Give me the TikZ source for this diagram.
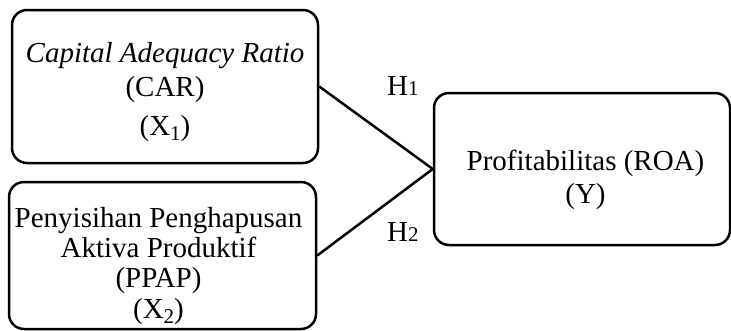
\documentclass[tikz,border=0pt]{standalone}
\usepackage{fontspec}
\setmainfont{Liberation Serif}
\newcommand{\sbx}[1]{\raisebox{-0.18em}{\fontsize{21}{21}\selectfont #1}}
\newcommand{\hsb}[1]{{\fontsize{21}{21}\selectfont #1}}
\begin{document}
\begin{tikzpicture}[x=1pt,y=-1pt,
  box/.style={draw, line width=2.5pt, rounded corners=15pt, inner sep=0pt},
  txt/.style={align=center, font=\fontsize{29}{30}\selectfont, inner sep=0pt, anchor=base},
  lbl/.style={font=\fontsize{29}{30}\selectfont, inner sep=0pt, anchor=base west},
  conn/.style={line width=2.5pt},
]
\useasboundingbox (0,0) rectangle (731,330);
\node[box, minimum width=306pt, minimum height=153pt] (b1) at (165,86.5) {};
\node[box, minimum width=307pt, minimum height=147pt] (b2) at (162.5,255.5) {};
\node[box, minimum width=296pt, minimum height=152pt] (b3) at (582,169) {};
\node[txt] (t1) at (165,135) {\textit{Capital Adequacy Ratio}\\[4pt] (CAR)\\[9pt] (X\sbx{1})};
\node[txt] (t2) at (158.5,318) {Penyisihan Penghapusan\\ Aktiva Produktif\\ (PPAP)\\[1pt] (X\sbx{2})};
\node[txt] (t3) at (585.5,203) {Profitabilitas (ROA)\\[3pt] (Y)};
\draw[conn] (b1.east) -- (b3.west);
\draw[conn] (b2.east) -- (b3.west);
\node[lbl] (h1) at (387,95) {H\hsb{1}};
\node[lbl] (h2) at (387,241) {H\hsb{2}};
\end{tikzpicture}
\end{document}
